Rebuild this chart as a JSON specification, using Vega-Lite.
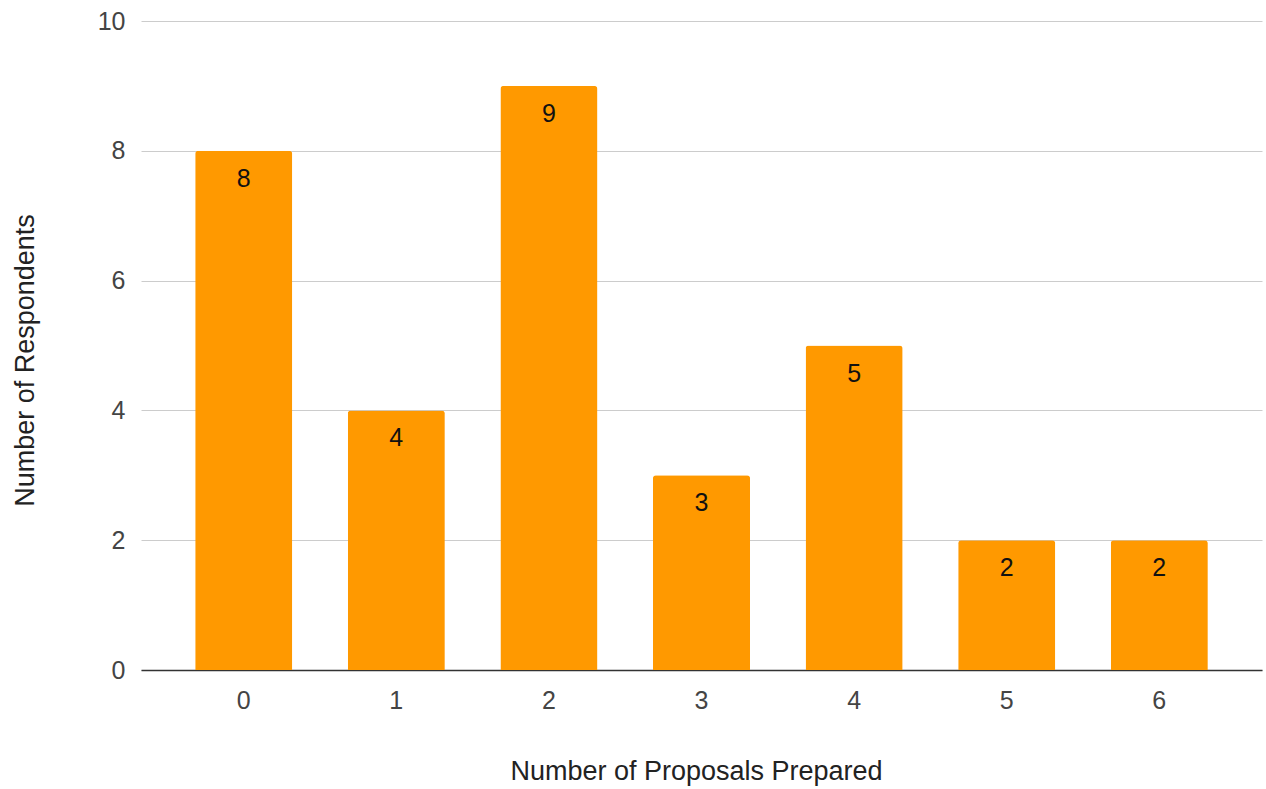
{
  "$schema": "https://vega.github.io/schema/vega-lite/v6.json",
  "width": 1121,
  "height": 649,
  "autosize": {"type": "none"},
  "padding": {"left": 141, "top": 21, "right": 4, "bottom": 119},
  "background": "white",
  "config": {
    "view": {"stroke": null},
    "font": "Liberation Sans"
  },
  "data": {
    "values": [
      {"proposals": "0", "respondents": 8},
      {"proposals": "1", "respondents": 4},
      {"proposals": "2", "respondents": 9},
      {"proposals": "3", "respondents": 3},
      {"proposals": "4", "respondents": 5},
      {"proposals": "5", "respondents": 2},
      {"proposals": "6", "respondents": 2}
    ]
  },
  "encoding": {
    "x": {
      "field": "proposals",
      "type": "ordinal",
      "sort": null,
      "scale": {"paddingInner": 0.364, "paddingOuter": 0.355},
      "axis": {
        "title": "Number of Proposals Prepared",
        "labelAngle": 0,
        "labelFontSize": 25,
        "labelColor": "#444444",
        "labelPadding": 18,
        "ticks": false,
        "domainColor": "#333333",
        "domainWidth": 1.5,
        "titleFontSize": 27,
        "titleFontWeight": "normal",
        "titleColor": "#222222",
        "titlePadding": 45,
        "titleX": 555
      }
    },
    "y": {
      "field": "respondents",
      "type": "quantitative",
      "scale": {"domain": [0, 10], "nice": false},
      "axis": {
        "title": "Number of Respondents",
        "values": [0, 2, 4, 6, 8, 10],
        "labelFontSize": 25,
        "labelColor": "#444444",
        "labelPadding": 16,
        "ticks": false,
        "domain": false,
        "gridColor": "#cccccc",
        "gridWidth": 1,
        "titleFontSize": 27,
        "titleFontWeight": "normal",
        "titleColor": "#222222",
        "titlePadding": 58,
        "titleY": 339
      }
    }
  },
  "layer": [
    {
      "mark": {"type": "bar", "color": "#FF9900", "cornerRadiusTopLeft": 3, "cornerRadiusTopRight": 3}
    },
    {
      "mark": {"type": "text", "baseline": "middle", "dy": 28, "fontSize": 25, "color": "#111111"},
      "encoding": {"text": {"field": "respondents", "type": "quantitative"}}
    }
  ]
}
